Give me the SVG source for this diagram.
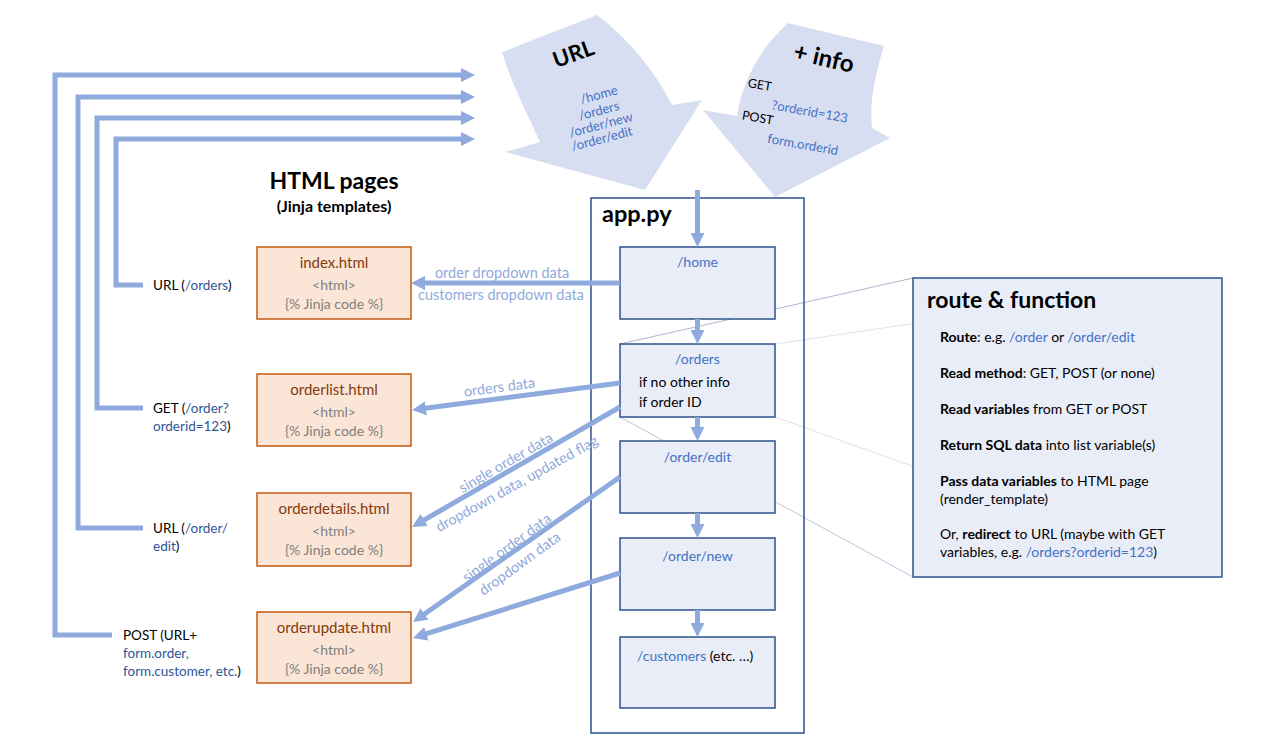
<svg xmlns="http://www.w3.org/2000/svg" width="1269" height="749" viewBox="0 0 1269 749">
<defs>
<marker id="ah" viewBox="0 0 14 14" refX="3" refY="7" markerWidth="14" markerHeight="14" markerUnits="userSpaceOnUse" orient="auto">
<path d="M0,0 L14,7 L0,14 z" fill="#8faadc"/>
</marker>
<style>
text{font-family:Lato,"Liberation Sans",sans-serif;}
.conn{fill:none;stroke:#8faadc;stroke-width:5;}
.arr{marker-end:url(#ah);}
.zoomln{fill:none;stroke-width:1;}
.html rect{fill:#fbe5d6;stroke:#c55a11;stroke-width:1.5;}
.html .t{fill:#843c0c;font-size:15px;text-anchor:middle;}
.html .g{fill:#7f7f7f;font-size:14px;text-anchor:middle;}
.route rect{fill:#e9edf7;stroke:#2f528f;stroke-width:1.5;}
.route text{font-size:14px;fill:#4472c4;}
.route .blk{fill:#000;}
.blk{fill:#000;}
.blue{fill:#4472c4;}
.dblue{fill:#2f5597;}
.lbl{font-size:13.5px;fill:#000;}
.clbl{font-size:14.5px;fill:#8faadc;text-anchor:middle;}
.big{fill:#d7def1;}
.info{font-size:14px;}
.info .b{font-weight:bold;}
</style>
</defs>

<!-- faint zoom lines -->
<g id="zoom-lines">
<line class="zoomln" x1="620" y1="344" x2="913" y2="278" stroke="#aab6d0"/>
<line class="zoomln" x1="775" y1="344" x2="1222" y2="278" stroke="#dfe4ee"/>
<line class="zoomln" x1="775" y1="417" x2="1222" y2="577" stroke="#eadede"/>
<line class="zoomln" x1="620" y1="417" x2="913" y2="577" stroke="#b9c3da"/>
</g>

<!-- big curved input arrows -->
<g id="url-arrow">
<path class="big" d="M502,52 L597,15 C627,38 655,70 672,105 L702,100 L645,190 L505,152 L540,142 C528,115 512,85 502,52 Z"/>
<text transform="translate(576,61) rotate(-20)" text-anchor="middle" font-size="22" font-weight="bold" fill="#000">URL</text>
<g font-size="13" fill="#4472c4" text-anchor="middle">
<text transform="translate(600,99) rotate(-15)">/home</text>
<text transform="translate(600,115) rotate(-15)">/orders</text>
<text transform="translate(602,129) rotate(-15)">/order/new</text>
<text transform="translate(603,143) rotate(-15)">/order/edit</text>
</g>
</g>
<g id="info-arrow">
<path class="big" d="M788,23 L884,46 C876,72 869,100 872,128 L890,138 L775,197 L703,110 L737,116 C742,82 760,48 788,23 Z"/>
<text transform="translate(822,66) rotate(13)" text-anchor="middle" font-size="24" font-weight="bold" fill="#000">+ info</text>
<text transform="translate(759,89) rotate(10)" text-anchor="middle" font-size="12.5" fill="#000">GET</text>
<text transform="translate(809,116) rotate(10)" text-anchor="middle" font-size="13" fill="#4472c4">?orderid=123</text>
<text transform="translate(757,122) rotate(10)" text-anchor="middle" font-size="12.5" fill="#000">POST</text>
<text transform="translate(802,149) rotate(10)" text-anchor="middle" font-size="13" fill="#4472c4">form.orderid</text>
</g>

<!-- titles -->
<g id="html-title">
<text x="334" y="189" text-anchor="middle" font-size="23" font-weight="bold">HTML pages</text>
<text x="334" y="212" text-anchor="middle" font-size="16" font-weight="bold">(Jinja templates)</text>
</g>

<!-- app.py container -->
<g id="app-py">
<rect x="591" y="198" width="213" height="535" fill="none" stroke="#2f528f" stroke-width="1.5"/>
<text x="602" y="222" font-size="23.5" font-weight="bold">app.py</text>
</g>

<!-- route nodes -->
<g id="r-home" class="route">
<rect x="620" y="247" width="155" height="72"/>
<text x="697.5" y="267" text-anchor="middle">/home</text>
</g>
<g id="r-orders" class="route">
<rect x="620" y="344" width="155" height="73"/>
<text x="697.5" y="364" text-anchor="middle">/orders</text>
<text x="639" y="387" class="blk" font-size="14.5">if no other info</text>
<text x="639" y="407" class="blk" font-size="14.5">if order ID</text>
</g>
<g id="r-edit" class="route">
<rect x="620" y="441" width="155" height="72"/>
<text x="697.5" y="462" text-anchor="middle">/order/edit</text>
</g>
<g id="r-new" class="route">
<rect x="620" y="538" width="155" height="72"/>
<text x="697.5" y="561" text-anchor="middle">/order/new</text>
</g>
<g id="r-customers" class="route">
<rect x="620" y="637" width="155" height="71"/>
<text x="637" y="661">/customers<tspan class="blk"> (etc. …)</tspan></text>
</g>

<!-- HTML page nodes -->
<g id="p-index" class="html">
<rect x="257" y="247" width="154" height="72"/>
<text class="t" x="334" y="268">index.html</text>
<text class="g" x="334" y="290">&lt;html&gt;</text>
<text class="g" x="334" y="309">{% Jinja code %}</text>
</g>
<g id="p-orderlist" class="html">
<rect x="257" y="374" width="154" height="72"/>
<text class="t" x="334" y="395">orderlist.html</text>
<text class="g" x="334" y="417">&lt;html&gt;</text>
<text class="g" x="334" y="436">{% Jinja code %}</text>
</g>
<g id="p-orderdetails" class="html">
<rect x="257" y="493" width="154" height="73"/>
<text class="t" x="334" y="514">orderdetails.html</text>
<text class="g" x="334" y="536">&lt;html&gt;</text>
<text class="g" x="334" y="555">{% Jinja code %}</text>
</g>
<g id="p-orderupdate" class="html">
<rect x="257" y="612" width="154" height="71"/>
<text class="t" x="334" y="633">orderupdate.html</text>
<text class="g" x="334" y="655">&lt;html&gt;</text>
<text class="g" x="334" y="674">{% Jinja code %}</text>
</g>

<!-- route & function info box -->
<g id="route-function" class="info">
<rect x="913" y="278" width="309" height="299" fill="#e9edf7" stroke="#2f528f" stroke-width="1.5"/>
<text x="927" y="308" font-size="23" font-weight="bold">route &amp; function</text>
<text x="940" y="342"><tspan class="b">Route</tspan>: e.g. <tspan class="blue">/order</tspan> or <tspan class="blue">/order/edit</tspan></text>
<text x="940" y="378"><tspan class="b">Read method</tspan>: GET, POST (or none)</text>
<text x="940" y="414"><tspan class="b">Read variables</tspan> from GET or POST</text>
<text x="940" y="450"><tspan class="b">Return SQL data</tspan> into list variable(s)</text>
<text x="940" y="486"><tspan class="b">Pass data variables</tspan> to HTML page</text>
<text x="940" y="504">(render_template)</text>
<text x="940" y="539">Or, <tspan class="b">redirect</tspan> to URL (maybe with GET</text>
<text x="940" y="557">variables, e.g. <tspan class="blue">/orders?orderid=123</tspan>)</text>
</g>

<!-- request labels on the left -->
<g id="req-labels" class="lbl">
<text x="153" y="290">URL (<tspan class="dblue">/orders</tspan>)</text>
<text x="153" y="413">GET (<tspan class="dblue">/order?</tspan></text>
<text x="153" y="431"><tspan class="dblue">orderid=123</tspan>)</text>
<text x="153" y="533">URL (<tspan class="dblue">/order/</tspan></text>
<text x="153" y="551"><tspan class="dblue">edit</tspan>)</text>
<text x="123" y="640">POST (URL+</text>
<text x="123" y="658"><tspan class="dblue">form.order,</tspan></text>
<text x="123" y="676"><tspan class="dblue">form.customer, etc.</tspan>)</text>
</g>

<!-- connectors -->
<g id="connectors">
<path class="conn arr" d="M112,635 H55 V75 H464"/>
<path class="conn arr" d="M143,528 H78 V97 H464"/>
<path class="conn arr" d="M143,408 H97 V118 H464"/>
<path class="conn arr" d="M143,285 H116 V139 H464"/>

<path class="conn arr" d="M697.5,190 V236"/>
<path class="conn arr" d="M697.5,319 V333"/>
<path class="conn arr" d="M697.5,417 V430"/>
<path class="conn arr" d="M697.5,513 V527"/>
<path class="conn arr" d="M697.5,610 V626"/>

<path class="conn arr" d="M620,283 H422"/>
<path class="conn arr" d="M620,383 L423,408.6"/>
<path class="conn arr" d="M620,407 L421.5,521.5"/>
<path class="conn arr" d="M620,477 L422,615.7"/>
<path class="conn arr" d="M620,573 L423.5,634.7"/>

<text class="clbl" x="502" y="278">order dropdown data</text>
<text class="clbl" x="501" y="300">customers dropdown data</text>
<text class="clbl" transform="translate(500,392) rotate(-7.4)">orders data</text>
<text class="clbl" transform="translate(506,463) rotate(-30)" y="4.5">single order data</text>
<text class="clbl" transform="translate(517,484) rotate(-29)" y="4.5">dropdown data, updated flag</text>
<text class="clbl" transform="translate(507,548) rotate(-36)" y="4.5">single order data</text>
<text class="clbl" transform="translate(520,564) rotate(-36)" y="4.5">dropdown data</text>
</g>
</svg>
